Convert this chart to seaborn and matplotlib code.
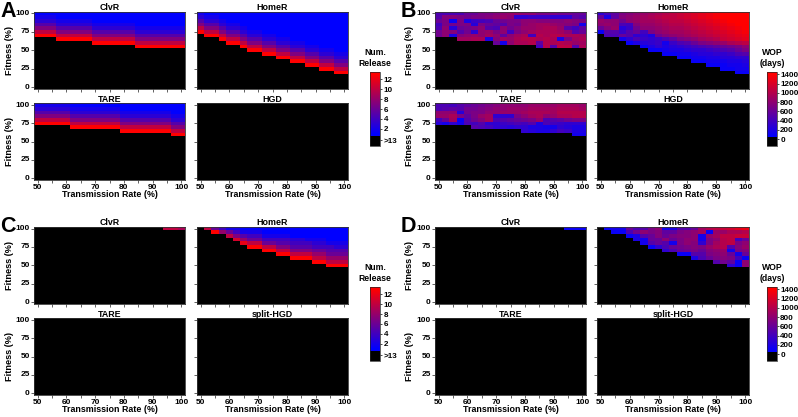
import numpy as np
import matplotlib
matplotlib.use('Agg')
import matplotlib.pyplot as plt
from matplotlib.colors import LinearSegmentedColormap, Normalize
from matplotlib.cm import ScalarMappable
import seaborn as sns

# rows go from fitness 100 (top) down to fitness 0, columns from transmission 50 to 100
# 0 = black cell (>13 releases / no WOP), rows not listed are all black
release_clvr_a = [
    [1, 1, 1, 1, 1, 1, 1, 1, 1, 1, 1, 1, 1, 1, 1, 1, 1, 1, 1, 1, 1],
    [2, 2, 2, 1, 1, 1, 1, 1, 1, 1, 1, 1, 1, 1, 1, 1, 1, 1, 1, 1, 1],
    [3, 3, 3, 2, 2, 2, 2, 2, 1, 1, 1, 1, 1, 1, 1, 1, 1, 1, 1, 1, 1],
    [5, 5, 5, 3, 3, 3, 3, 3, 2, 2, 2, 2, 2, 2, 1, 1, 1, 1, 1, 1, 1],
    [7, 7, 7, 5, 5, 5, 5, 5, 3, 3, 3, 3, 3, 3, 2, 2, 2, 2, 2, 2, 2],
    [10, 10, 10, 7, 7, 7, 7, 7, 5, 5, 5, 5, 5, 5, 3, 3, 3, 3, 3, 3, 3],
    [13, 13, 13, 10, 10, 10, 10, 10, 7, 7, 7, 7, 7, 7, 5, 5, 5, 5, 5, 5, 5],
    [0, 0, 0, 13, 13, 13, 13, 13, 10, 10, 10, 10, 10, 10, 7, 7, 7, 7, 7, 7, 7],
    [0, 0, 0, 0, 0, 0, 0, 0, 13, 13, 13, 13, 13, 13, 10, 10, 10, 10, 10, 10, 10],
    [0, 0, 0, 0, 0, 0, 0, 0, 0, 0, 0, 0, 0, 0, 13, 13, 13, 13, 13, 13, 13],
]
release_home_a = [
    [2, 1, 1, 1, 1, 1, 1, 1, 1, 1, 1, 1, 1, 1, 1, 1, 1, 1, 1, 1, 1],
    [3, 2, 2, 1, 1, 1, 1, 1, 1, 1, 1, 1, 1, 1, 1, 1, 1, 1, 1, 1, 1],
    [5, 3, 3, 2, 1, 1, 1, 1, 1, 1, 1, 1, 1, 1, 1, 1, 1, 1, 1, 1, 1],
    [7, 5, 5, 3, 2, 2, 1, 1, 1, 1, 1, 1, 1, 1, 1, 1, 1, 1, 1, 1, 1],
    [10, 7, 7, 5, 3, 3, 2, 1, 1, 1, 1, 1, 1, 1, 1, 1, 1, 1, 1, 1, 1],
    [13, 10, 10, 7, 5, 5, 3, 2, 2, 1, 1, 1, 1, 1, 1, 1, 1, 1, 1, 1, 1],
    [0, 13, 13, 10, 7, 7, 5, 3, 3, 2, 2, 1, 1, 1, 1, 1, 1, 1, 1, 1, 1],
    [0, 0, 0, 13, 10, 10, 7, 5, 5, 3, 3, 2, 2, 1, 1, 1, 1, 1, 1, 1, 1],
    [0, 0, 0, 0, 13, 13, 10, 7, 7, 5, 5, 3, 3, 2, 2, 1, 1, 1, 1, 1, 1],
    [0, 0, 0, 0, 0, 0, 13, 10, 10, 7, 7, 5, 5, 3, 3, 2, 2, 1, 1, 1, 1],
    [0, 0, 0, 0, 0, 0, 0, 13, 13, 10, 10, 7, 7, 5, 5, 3, 3, 2, 2, 1, 1],
    [0, 0, 0, 0, 0, 0, 0, 0, 0, 13, 13, 10, 10, 7, 7, 5, 5, 3, 3, 2, 2],
    [0, 0, 0, 0, 0, 0, 0, 0, 0, 0, 0, 13, 13, 10, 10, 7, 7, 5, 5, 3, 3],
    [0, 0, 0, 0, 0, 0, 0, 0, 0, 0, 0, 0, 0, 13, 13, 10, 10, 7, 7, 5, 5],
    [0, 0, 0, 0, 0, 0, 0, 0, 0, 0, 0, 0, 0, 0, 0, 13, 13, 10, 10, 7, 7],
    [0, 0, 0, 0, 0, 0, 0, 0, 0, 0, 0, 0, 0, 0, 0, 0, 0, 13, 13, 10, 10],
    [0, 0, 0, 0, 0, 0, 0, 0, 0, 0, 0, 0, 0, 0, 0, 0, 0, 0, 0, 13, 13],
]
release_tare_a = [
    [2, 2, 2, 2, 2, 1, 1, 1, 1, 1, 1, 1, 1, 1, 1, 1, 1, 1, 1, 1, 1],
    [3, 3, 3, 3, 3, 2, 2, 2, 2, 2, 2, 2, 1, 1, 1, 1, 1, 1, 1, 1, 1],
    [5, 5, 5, 5, 5, 3, 3, 3, 3, 3, 3, 3, 2, 2, 2, 2, 2, 2, 2, 1, 1],
    [7, 7, 7, 7, 7, 5, 5, 5, 5, 5, 5, 5, 3, 3, 3, 3, 3, 3, 3, 2, 2],
    [10, 10, 10, 10, 10, 7, 7, 7, 7, 7, 7, 7, 5, 5, 5, 5, 5, 5, 5, 3, 3],
    [13, 13, 13, 13, 13, 10, 10, 10, 10, 10, 10, 10, 7, 7, 7, 7, 7, 7, 7, 5, 5],
    [0, 0, 0, 0, 0, 13, 13, 13, 13, 13, 13, 13, 10, 10, 10, 10, 10, 10, 10, 7, 7],
    [0, 0, 0, 0, 0, 0, 0, 0, 0, 0, 0, 0, 13, 13, 13, 13, 13, 13, 13, 10, 10],
    [0, 0, 0, 0, 0, 0, 0, 0, 0, 0, 0, 0, 0, 0, 0, 0, 0, 0, 0, 13, 13],
]

wop_clvr_b = [
    [450, 450, 450, 450, 600, 600, 700, 700, 750, 800, 850, 850, 800, 800, 700, 700, 700, 650, 650, 600, 600],
    [500, 750, 750, 700, 650, 700, 700, 750, 800, 850, 800, 300, 300, 350, 350, 350, 300, 300, 300, 550, 500],
    [600, 700, 100, 700, 200, 350, 400, 450, 600, 650, 700, 700, 800, 800, 750, 750, 750, 750, 800, 750, 700],
    [400, 700, 650, 700, 700, 250, 700, 600, 550, 500, 700, 650, 800, 850, 900, 900, 850, 800, 750, 700, 150],
    [450, 800, 250, 600, 650, 700, 800, 500, 450, 800, 650, 750, 850, 850, 900, 950, 950, 850, 500, 400, 550],
    [650, 800, 750, 500, 650, 300, 800, 850, 700, 800, 400, 700, 800, 900, 950, 950, 950, 900, 800, 500, 600],
    [650, 800, 200, 750, 800, 850, 800, 900, 800, 550, 800, 900, 950, 400, 1000, 950, 1000, 1000, 950, 950, 900],
    [0, 0, 0, 900, 900, 950, 950, 200, 750, 900, 850, 950, 1000, 1000, 950, 1000, 950, 200, 700, 900, 950],
    [0, 0, 0, 0, 0, 0, 0, 0, 600, 150, 800, 950, 950, 1000, 550, 1000, 950, 1000, 950, 850, 900],
    [0, 0, 0, 0, 0, 0, 0, 0, 0, 0, 0, 0, 0, 0, 400, 1000, 500, 1050, 1050, 500, 950],
]
wop_home_b = [
    [300, 450, 550, 700, 750, 800, 850, 900, 950, 1000, 1050, 1100, 1150, 1200, 1250, 1300, 1350, 1400, 1400, 1400, 1400],
    [600, 200, 550, 750, 800, 850, 900, 950, 1000, 1050, 1050, 1100, 1150, 1200, 1250, 1300, 1350, 1400, 1400, 1400, 1400],
    [850, 800, 800, 650, 800, 850, 900, 900, 950, 1000, 1050, 1050, 1100, 1150, 1200, 1250, 1300, 1350, 1400, 1400, 1400],
    [800, 850, 800, 450, 400, 750, 850, 850, 900, 950, 1000, 1000, 1050, 1100, 1150, 1200, 1250, 1300, 1350, 1400, 1400],
    [600, 750, 850, 250, 350, 650, 800, 800, 850, 900, 950, 950, 1000, 1050, 1100, 1150, 1200, 1250, 1300, 1350, 1400],
    [100, 500, 500, 350, 500, 600, 400, 700, 800, 850, 900, 900, 950, 1000, 1050, 1100, 1150, 1200, 1250, 1300, 1350],
    [0, 450, 450, 600, 500, 300, 300, 200, 650, 750, 800, 850, 900, 950, 1000, 1050, 1100, 1150, 1200, 1250, 1300],
    [0, 0, 0, 150, 300, 450, 350, 300, 350, 450, 550, 700, 750, 800, 900, 950, 1000, 1100, 1150, 1200, 1250],
    [0, 0, 0, 0, 100, 200, 250, 300, 350, 150, 350, 450, 500, 600, 700, 750, 800, 850, 950, 1000, 1050],
    [0, 0, 0, 0, 0, 0, 100, 200, 300, 200, 250, 300, 350, 400, 450, 500, 550, 600, 650, 700, 800],
    [0, 0, 0, 0, 0, 0, 0, 100, 100, 150, 200, 200, 250, 300, 300, 350, 400, 450, 500, 600, 700],
    [0, 0, 0, 0, 0, 0, 0, 0, 0, 100, 100, 150, 150, 200, 250, 250, 300, 300, 350, 450, 500],
    [0, 0, 0, 0, 0, 0, 0, 0, 0, 0, 0, 100, 100, 150, 150, 200, 200, 250, 250, 300, 300],
    [0, 0, 0, 0, 0, 0, 0, 0, 0, 0, 0, 0, 0, 100, 100, 150, 150, 150, 200, 200, 250],
    [0, 0, 0, 0, 0, 0, 0, 0, 0, 0, 0, 0, 0, 0, 0, 100, 100, 100, 150, 150, 200],
    [0, 0, 0, 0, 0, 0, 0, 0, 0, 0, 0, 0, 0, 0, 0, 0, 0, 100, 100, 150, 150],
    [0, 0, 0, 0, 0, 0, 0, 0, 0, 0, 0, 0, 0, 0, 0, 0, 0, 0, 0, 100, 100],
]
wop_tare_b = [
    [450, 450, 400, 500, 550, 600, 650, 700, 750, 800, 800, 800, 800, 850, 850, 850, 850, 900, 900, 900, 850],
    [450, 500, 550, 500, 650, 650, 700, 750, 800, 800, 850, 850, 850, 900, 900, 900, 900, 950, 950, 950, 900],
    [800, 800, 800, 250, 650, 700, 700, 800, 800, 850, 850, 850, 900, 950, 950, 950, 900, 1000, 1000, 1000, 1000],
    [850, 850, 950, 700, 550, 700, 850, 900, 300, 300, 300, 700, 800, 900, 950, 800, 850, 950, 950, 1000, 1000],
    [400, 600, 900, 100, 500, 650, 750, 900, 450, 500, 550, 600, 650, 700, 850, 450, 500, 550, 650, 700, 700],
    [250, 150, 300, 150, 450, 400, 500, 300, 300, 350, 400, 450, 400, 500, 200, 450, 400, 350, 300, 300, 300],
    [0, 0, 0, 0, 0, 500, 450, 400, 300, 300, 250, 300, 300, 200, 200, 150, 150, 300, 250, 200, 200],
    [0, 0, 0, 0, 0, 0, 0, 0, 0, 0, 0, 0, 300, 250, 200, 200, 300, 400, 350, 200, 200],
    [0, 0, 0, 0, 0, 0, 0, 0, 0, 0, 0, 0, 0, 0, 0, 0, 0, 0, 0, 150, 150],
]

release_clvr_c = [
    [0, 0, 0, 0, 0, 0, 0, 0, 0, 0, 0, 0, 0, 0, 0, 0, 0, 0, 10, 10, 9],
]
release_home_c = [
    [0, 10, 6, 4, 2, 2, 1, 1, 1, 1, 1, 1, 1, 1, 1, 1, 1, 1, 1, 1, 1],
    [0, 0, 13, 8, 6, 4, 2, 2, 2, 1, 1, 1, 1, 1, 1, 1, 1, 1, 1, 1, 1],
    [0, 0, 0, 0, 10, 7, 5, 4, 4, 2, 2, 2, 2, 1, 1, 1, 1, 1, 1, 1, 1],
    [0, 0, 0, 0, 0, 11, 8, 6, 6, 4, 4, 4, 4, 3, 3, 2, 2, 2, 1, 1, 1],
    [0, 0, 0, 0, 0, 0, 12, 10, 10, 6, 6, 5, 5, 4, 4, 4, 3, 3, 2, 2, 2],
    [0, 0, 0, 0, 0, 0, 0, 13, 13, 10, 10, 7, 7, 5, 5, 5, 4, 4, 4, 3, 3],
    [0, 0, 0, 0, 0, 0, 0, 0, 0, 13, 13, 10, 10, 7, 7, 7, 6, 6, 5, 5, 5],
    [0, 0, 0, 0, 0, 0, 0, 0, 0, 0, 0, 13, 13, 10, 10, 10, 8, 8, 6, 6, 6],
    [0, 0, 0, 0, 0, 0, 0, 0, 0, 0, 0, 0, 0, 13, 13, 13, 10, 10, 8, 8, 8],
    [0, 0, 0, 0, 0, 0, 0, 0, 0, 0, 0, 0, 0, 0, 0, 0, 13, 13, 10, 10, 10],
    [0, 0, 0, 0, 0, 0, 0, 0, 0, 0, 0, 0, 0, 0, 0, 0, 0, 0, 13, 13, 13],
]

wop_clvr_d = [
    [0, 0, 0, 0, 0, 0, 0, 0, 0, 0, 0, 0, 0, 0, 0, 0, 0, 0, 100, 100, 100],
]
wop_home_d = [
    [0, 100, 150, 150, 600, 450, 500, 700, 800, 150, 200, 500, 500, 600, 900, 1000, 1050, 1100, 1150, 1250, 1300],
    [0, 0, 100, 100, 450, 650, 800, 700, 750, 550, 550, 700, 750, 800, 900, 100, 850, 850, 950, 950, 1000],
    [0, 0, 0, 0, 100, 200, 500, 600, 750, 600, 700, 750, 750, 800, 150, 800, 900, 1050, 1050, 1100, 1100],
    [0, 0, 0, 0, 0, 200, 150, 600, 600, 800, 600, 700, 800, 800, 150, 700, 800, 1000, 1050, 400, 600],
    [0, 0, 0, 0, 0, 0, 150, 500, 600, 500, 150, 700, 800, 750, 300, 700, 900, 1000, 1050, 700, 800],
    [0, 0, 0, 0, 0, 0, 0, 100, 300, 450, 600, 650, 700, 750, 700, 850, 950, 1000, 500, 750, 850],
    [0, 0, 0, 0, 0, 0, 0, 0, 0, 300, 450, 600, 650, 700, 600, 750, 800, 850, 150, 700, 750],
    [0, 0, 0, 0, 0, 0, 0, 0, 0, 0, 0, 100, 100, 500, 500, 700, 750, 800, 600, 150, 600],
    [0, 0, 0, 0, 0, 0, 0, 0, 0, 0, 0, 0, 0, 200, 450, 600, 700, 750, 700, 400, 100],
    [0, 0, 0, 0, 0, 0, 0, 0, 0, 0, 0, 0, 0, 0, 0, 0, 500, 650, 550, 100, 800],
    [0, 0, 0, 0, 0, 0, 0, 0, 0, 0, 0, 0, 0, 0, 0, 0, 0, 0, 300, 100, 800],
]
all_black = []

x_labels = [50, 60, 70, 80, 90, 100]
y_labels = [100, 75, 50, 25, 0]
release_ticks = [-0.3, 2, 4, 6, 8, 10, 12]
release_tick_labels = ['>13', '2', '4', '6', '8', '10', '12']
wop_ticks = [0, 200, 400, 600, 800, 1000, 1200, 1400]

W, H = 798, 417
sns.set_theme(style='white')
plt.rcParams['font.family'] = ['Liberation Sans', 'DejaVu Sans']
plt.rcParams['font.weight'] = 'bold'
plt.rcParams['axes.linewidth'] = 0.6

black, blue, red = '#000000', '#0000ff', '#ff0000'
release_cmap = LinearSegmentedColormap.from_list(
    'release', [(0, black), (1.99 / 15, black), (2 / 15, blue), (2.5 / 15, blue), (14.5 / 15, red), (1, red)], N=1024)
wop_cmap = LinearSegmentedColormap.from_list(
    'wop', [(0, black), (199 / 1600, black), (200 / 1600, blue), (1550 / 1600, red), (1, red)], N=1024)
release_norm = Normalize(-1.5, 13.5)
wop_norm = Normalize(-150, 1450)


def px_axes(x0, y0, x1, y1):
    # pixel box from the reference, y measured from the top
    return fig.add_axes([x0 / W, 1 - y1 / H, (x1 - x0) / W, (y1 - y0) / H])


def full_grid(rows):
    grid = np.zeros((21, 21))
    if rows:
        grid[:len(rows)] = rows
    return grid


def draw_panel(box, rows, title, cmap, norm, left, bottom):
    ax = px_axes(*box)
    sns.heatmap(full_grid(rows), ax=ax, cmap=cmap, norm=norm, cbar=False, square=False)
    for s in ax.spines.values():
        s.set_visible(True)
        s.set_color('#333333')
    ax.set_xticks(np.arange(0, 21, 2) + 0.5)
    ax.set_yticks(np.arange(0, 21, 5) + 0.5)
    labels = []
    for i in range(11):
        labels.append(str(x_labels[i // 2]) if bottom and i % 2 == 0 else '')
    ax.set_xticklabels(labels, rotation=0)
    ax.set_yticklabels([str(v) for v in y_labels] if left else [], rotation=0)
    ax.tick_params(axis='both', which='major', bottom=True, left=True, length=2, width=0.5,
                   pad=1, labelsize=6, color='#222222', labelcolor='black')
    ax.set_title(title, fontsize=6.4, fontweight='bold', pad=1.2, color='black')
    if left:
        ax.set_ylabel('Fitness (%)', fontsize=6.6, fontweight='bold', labelpad=1.5, color='black')
    if bottom:
        ax.set_xlabel('Transmission Rate (%)', fontsize=6.4, fontweight='bold', labelpad=-1, color='black')
    return ax


def draw_cbar(box, cmap, norm, ticks, labels, head, head_x, head_y):
    cax = px_axes(*box)
    cb = fig.colorbar(ScalarMappable(norm=norm, cmap=cmap), cax=cax)
    cb.set_ticks(ticks)
    cb.set_ticklabels(labels)
    cb.ax.tick_params(length=1.5, width=0.5, pad=0.8, labelsize=5.8, colors='black')
    cb.outline.set_linewidth(0.5)
    fig.text(head_x / W, 1 - head_y / H, head, ha='center', va='center', fontsize=6.2,
             fontweight='bold', color='black', linespacing=1.15)


fig = plt.figure(figsize=(W / 100, H / 100), dpi=100)

col_a, col_b = [(34, 185), (197, 348)], [(435, 586), (597, 749)]
row_top, row_bot = [(11.5, 89), (103.3, 180)], [(226.7, 304), (318.3, 395)]

groups = [
    (col_a, row_top, ['ClvR', 'HomeR', 'TARE', 'HGD'],
     [release_clvr_a, release_home_a, release_tare_a, all_black], release_cmap, release_norm),
    (col_b, row_top, ['ClvR', 'HomeR', 'TARE', 'HGD'],
     [wop_clvr_b, wop_home_b, wop_tare_b, all_black], wop_cmap, wop_norm),
    (col_a, row_bot, ['ClvR', 'HomeR', 'TARE', 'split-HGD'],
     [release_clvr_c, release_home_c, all_black, all_black], release_cmap, release_norm),
    (col_b, row_bot, ['ClvR', 'HomeR', 'TARE', 'split-HGD'],
     [wop_clvr_d, wop_home_d, all_black, all_black], wop_cmap, wop_norm),
]

for cols, rows, titles, grids, cmap, norm in groups:
    for k in range(4):
        cx, ry = cols[k % 2], rows[k // 2]
        draw_panel((cx[0], ry[0], cx[1], ry[1]), grids[k], titles[k], cmap, norm, k % 2 == 0, k // 2 == 1)

draw_cbar((369.5, 72, 380.5, 146), release_cmap, release_norm, release_ticks, release_tick_labels, 'Num.\nRelease', 375, 58)
draw_cbar((369.5, 287, 380.5, 361), release_cmap, release_norm, release_ticks, release_tick_labels, 'Num.\nRelease', 375, 273)
draw_cbar((767, 72, 777, 146), wop_cmap, wop_norm, wop_ticks, [str(v) for v in wop_ticks], 'WOP\n(days)', 772, 58)
draw_cbar((767, 287, 777, 361), wop_cmap, wop_norm, wop_ticks, [str(v) for v in wop_ticks], 'WOP\n(days)', 772, 273)

for letter, x, y in [('A', 8.5, 11.5), ('B', 408.5, 11.5), ('C', 8, 226.5), ('D', 408.5, 226.5)]:
    fig.text(x / W, 1 - y / H, letter, ha='center', va='center', fontsize=15.5, fontweight='bold', color='black')

fig.savefig('out.png', dpi=100)
